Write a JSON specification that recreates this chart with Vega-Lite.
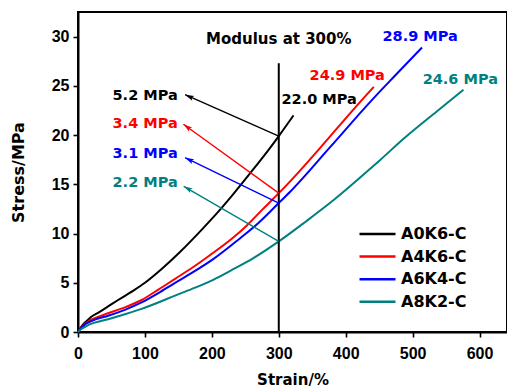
{
  "$schema": "https://vega.github.io/schema/vega-lite/v6.json",
  "autosize": {"type": "none"},
  "padding": {"left": 78, "top": 12, "right": 0, "bottom": 56},
  "width": 429,
  "height": 320,
  "background": "white",
  "config": {
    "view": {"stroke": "#000000", "strokeWidth": 2},
    "axis": {
      "grid": false,
      "domainColor": "#000000",
      "domainWidth": 2,
      "tickColor": "#000000",
      "tickWidth": 1.6,
      "labelFont": "Liberation Sans",
      "labelFontWeight": "bold",
      "labelFontSize": 16,
      "labelColor": "#000000",
      "titleFont": "DejaVu Sans",
      "titleFontWeight": "bold",
      "titleFontSize": 16,
      "titleColor": "#000000"
    }
  },
  "datasets": {
    "curves": [
      {"series": "A0K6-C", "strain": 0, "stress": 0},
      {"series": "A0K6-C", "strain": 5, "stress": 0.55},
      {"series": "A0K6-C", "strain": 10, "stress": 0.95},
      {"series": "A0K6-C", "strain": 15, "stress": 1.25},
      {"series": "A0K6-C", "strain": 20, "stress": 1.55},
      {"series": "A0K6-C", "strain": 30, "stress": 1.95},
      {"series": "A0K6-C", "strain": 45, "stress": 2.6},
      {"series": "A0K6-C", "strain": 60, "stress": 3.25},
      {"series": "A0K6-C", "strain": 85, "stress": 4.3},
      {"series": "A0K6-C", "strain": 100, "stress": 5.0},
      {"series": "A0K6-C", "strain": 125, "stress": 6.4},
      {"series": "A0K6-C", "strain": 152, "stress": 8.1},
      {"series": "A0K6-C", "strain": 185, "stress": 10.4},
      {"series": "A0K6-C", "strain": 212, "stress": 12.4},
      {"series": "A0K6-C", "strain": 232, "stress": 14.0},
      {"series": "A0K6-C", "strain": 257, "stress": 16.1},
      {"series": "A0K6-C", "strain": 287, "stress": 18.7},
      {"series": "A0K6-C", "strain": 300, "stress": 19.9},
      {"series": "A0K6-C", "strain": 322, "stress": 22.0},
      {"series": "A4K6-C", "strain": 0, "stress": 0},
      {"series": "A4K6-C", "strain": 5, "stress": 0.5},
      {"series": "A4K6-C", "strain": 10, "stress": 0.8},
      {"series": "A4K6-C", "strain": 15, "stress": 1.05},
      {"series": "A4K6-C", "strain": 25, "stress": 1.4},
      {"series": "A4K6-C", "strain": 45, "stress": 1.9},
      {"series": "A4K6-C", "strain": 70, "stress": 2.5},
      {"series": "A4K6-C", "strain": 95, "stress": 3.25},
      {"series": "A4K6-C", "strain": 120, "stress": 4.3},
      {"series": "A4K6-C", "strain": 145, "stress": 5.4},
      {"series": "A4K6-C", "strain": 170, "stress": 6.5},
      {"series": "A4K6-C", "strain": 197, "stress": 7.8},
      {"series": "A4K6-C", "strain": 232, "stress": 9.6},
      {"series": "A4K6-C", "strain": 252, "stress": 10.8},
      {"series": "A4K6-C", "strain": 275, "stress": 12.4},
      {"series": "A4K6-C", "strain": 300, "stress": 14.1},
      {"series": "A4K6-C", "strain": 317, "stress": 15.3},
      {"series": "A4K6-C", "strain": 367, "stress": 19.1},
      {"series": "A4K6-C", "strain": 400, "stress": 21.7},
      {"series": "A4K6-C", "strain": 422, "stress": 23.4},
      {"series": "A4K6-C", "strain": 442, "stress": 24.9},
      {"series": "A6K4-C", "strain": 0, "stress": 0},
      {"series": "A6K4-C", "strain": 5, "stress": 0.45},
      {"series": "A6K4-C", "strain": 10, "stress": 0.75},
      {"series": "A6K4-C", "strain": 15, "stress": 0.95},
      {"series": "A6K4-C", "strain": 25, "stress": 1.25},
      {"series": "A6K4-C", "strain": 45, "stress": 1.65},
      {"series": "A6K4-C", "strain": 70, "stress": 2.25},
      {"series": "A6K4-C", "strain": 95, "stress": 3.0},
      {"series": "A6K4-C", "strain": 120, "stress": 3.95},
      {"series": "A6K4-C", "strain": 145, "stress": 5.0},
      {"series": "A6K4-C", "strain": 170, "stress": 6.0},
      {"series": "A6K4-C", "strain": 202, "stress": 7.4},
      {"series": "A6K4-C", "strain": 240, "stress": 9.4},
      {"series": "A6K4-C", "strain": 270, "stress": 11.1},
      {"series": "A6K4-C", "strain": 300, "stress": 13.1},
      {"series": "A6K4-C", "strain": 317, "stress": 14.25},
      {"series": "A6K4-C", "strain": 377, "stress": 18.8},
      {"series": "A6K4-C", "strain": 437, "stress": 23.4},
      {"series": "A6K4-C", "strain": 476, "stress": 26.2},
      {"series": "A6K4-C", "strain": 514, "stress": 28.9},
      {"series": "A8K2-C", "strain": 0, "stress": 0},
      {"series": "A8K2-C", "strain": 5, "stress": 0.3},
      {"series": "A8K2-C", "strain": 10, "stress": 0.5},
      {"series": "A8K2-C", "strain": 15, "stress": 0.7},
      {"series": "A8K2-C", "strain": 25, "stress": 0.95},
      {"series": "A8K2-C", "strain": 45, "stress": 1.3},
      {"series": "A8K2-C", "strain": 70, "stress": 1.8},
      {"series": "A8K2-C", "strain": 95, "stress": 2.35},
      {"series": "A8K2-C", "strain": 120, "stress": 3.0},
      {"series": "A8K2-C", "strain": 145, "stress": 3.7},
      {"series": "A8K2-C", "strain": 175, "stress": 4.5},
      {"series": "A8K2-C", "strain": 202, "stress": 5.3},
      {"series": "A8K2-C", "strain": 230, "stress": 6.3},
      {"series": "A8K2-C", "strain": 262, "stress": 7.5},
      {"series": "A8K2-C", "strain": 300, "stress": 9.2},
      {"series": "A8K2-C", "strain": 340, "stress": 11.2},
      {"series": "A8K2-C", "strain": 382, "stress": 13.4},
      {"series": "A8K2-C", "strain": 437, "stress": 16.6},
      {"series": "A8K2-C", "strain": 452, "stress": 17.5},
      {"series": "A8K2-C", "strain": 486, "stress": 19.6},
      {"series": "A8K2-C", "strain": 536, "stress": 22.4},
      {"series": "A8K2-C", "strain": 576, "stress": 24.6}
    ],
    "arrows": [
      {"series": "A0K6-C", "x0": 300, "y0": 19.9, "x1": 160, "y1": 24.1},
      {"series": "A4K6-C", "x0": 300, "y0": 14.1, "x1": 157.5, "y1": 21.1},
      {"series": "A6K4-C", "x0": 300, "y0": 13.1, "x1": 160, "y1": 17.7},
      {"series": "A8K2-C", "x0": 300, "y0": 9.2, "x1": 158, "y1": 14.8}
    ],
    "leftLabels": [
      {"series": "A0K6-C", "strain": 149, "stress": 24.0, "label": "5.2 MPa"},
      {"series": "A4K6-C", "strain": 149, "stress": 21.1, "label": "3.4 MPa"},
      {"series": "A6K4-C", "strain": 149, "stress": 18.1, "label": "3.1 MPa"},
      {"series": "A8K2-C", "strain": 149, "stress": 15.1, "label": "2.2 MPa"}
    ],
    "rightLabels": [
      {"series": "A0K6-C", "strain": 304, "stress": 23.6, "label": "22.0 MPa"},
      {"series": "A4K6-C", "strain": 346, "stress": 26.0, "label": "24.9 MPa"},
      {"series": "A6K4-C", "strain": 455, "stress": 30.0, "label": "28.9 MPa"},
      {"series": "A8K2-C", "strain": 515, "stress": 25.6, "label": "24.6 MPa"}
    ]
  },
  "layer": [
    {
      "data": {"name": "curves"},
      "mark": {"type": "line", "strokeWidth": 2, "interpolate": "monotone"},
      "encoding": {
        "x": {
          "field": "strain", "type": "quantitative",
          "scale": {"domain": [0, 641], "nice": false, "zero": false},
          "axis": {
            "title": "Strain/%",
            "values": [0, 50, 100, 150, 200, 250, 300, 350, 400, 450, 500, 550, 600],
            "labelExpr": "datum.value % 100 === 0 ? datum.label : ''",
            "tickSize": {"condition": {"test": "datum.value % 100 === 0", "value": 5}, "value": 3},
            "labelPadding": 8,
            "labelFlush": false,
            "titleY": 40,
            "titleFontSize": 15,
            "titleBaseline": "top"
          }
        },
        "y": {
          "field": "stress", "type": "quantitative",
          "scale": {"domain": [0, 32.5], "nice": false, "zero": false},
          "axis": {
            "title": "Stress/MPa",
            "values": [0, 2.5, 5, 7.5, 10, 12.5, 15, 17.5, 20, 22.5, 25, 27.5, 30],
            "labelExpr": "datum.value % 5 === 0 ? datum.label : ''",
            "tickSize": {"condition": {"test": "datum.value % 5 === 0", "value": 5}, "value": 3},
            "labelPadding": 4,
            "labelFlush": false,
            "titleX": -60,
            "titleY": 160,
            "titleAngle": 270,
            "titleAlign": "center",
            "titleBaseline": "middle"
          }
        },
        "color": {
          "field": "series", "type": "nominal",
          "scale": {
            "domain": ["A0K6-C", "A4K6-C", "A6K4-C", "A8K2-C"],
            "range": ["#000000", "#ff0000", "#0000ff", "#008080"]
          },
          "legend": {
            "orient": "none",
            "legendX": 280,
            "legendY": 211,
            "title": null,
            "padding": 0,
            "symbolType": "stroke",
            "symbolSize": 1296,
            "symbolStrokeWidth": 2.5,
            "labelFont": "DejaVu Sans",
            "labelFontWeight": "bold",
            "labelFontSize": 16,
            "labelColor": "#000000",
            "labelOffset": 4,
            "clipHeight": 22,
            "rowPadding": 0.6
          }
        }
      }
    },
    {
      "data": {"values": [{"strain": 300, "low": 0, "high": 27.3}]},
      "mark": {"type": "rule", "color": "#000000", "strokeWidth": 2},
      "encoding": {
        "x": {"field": "strain", "type": "quantitative"},
        "y": {"field": "low", "type": "quantitative"},
        "y2": {"field": "high"}
      }
    },
    {
      "data": {"name": "arrows"},
      "mark": {"type": "rule", "strokeWidth": 1.4},
      "encoding": {
        "x": {"field": "x0", "type": "quantitative"},
        "y": {"field": "y0", "type": "quantitative"},
        "x2": {"field": "x1"},
        "y2": {"field": "y1"},
        "color": {"field": "series", "type": "nominal", "legend": null}
      }
    },
    {
      "data": {"name": "arrows"},
      "transform": [{"filter": "datum.series === 'A0K6-C'"}],
      "mark": {"type": "point", "shape": "M0,0L0.7,2.4L0,1.9L-0.7,2.4Z", "filled": true, "opacity": 1, "size": 56, "angle": 294, "strokeWidth": 0},
      "encoding": {
        "x": {"field": "x1", "type": "quantitative"},
        "y": {"field": "y1", "type": "quantitative"},
        "color": {"field": "series", "type": "nominal", "legend": null}
      }
    },
    {
      "data": {"name": "arrows"},
      "transform": [{"filter": "datum.series === 'A4K6-C'"}],
      "mark": {"type": "point", "shape": "M0,0L0.7,2.4L0,1.9L-0.7,2.4Z", "filled": true, "opacity": 1, "size": 56, "angle": 306, "strokeWidth": 0},
      "encoding": {
        "x": {"field": "x1", "type": "quantitative"},
        "y": {"field": "y1", "type": "quantitative"},
        "color": {"field": "series", "type": "nominal", "legend": null}
      }
    },
    {
      "data": {"name": "arrows"},
      "transform": [{"filter": "datum.series === 'A6K4-C'"}],
      "mark": {"type": "point", "shape": "M0,0L0.7,2.4L0,1.9L-0.7,2.4Z", "filled": true, "opacity": 1, "size": 56, "angle": 296, "strokeWidth": 0},
      "encoding": {
        "x": {"field": "x1", "type": "quantitative"},
        "y": {"field": "y1", "type": "quantitative"},
        "color": {"field": "series", "type": "nominal", "legend": null}
      }
    },
    {
      "data": {"name": "arrows"},
      "transform": [{"filter": "datum.series === 'A8K2-C'"}],
      "mark": {"type": "point", "shape": "M0,0L0.7,2.4L0,1.9L-0.7,2.4Z", "filled": true, "opacity": 1, "size": 56, "angle": 300, "strokeWidth": 0},
      "encoding": {
        "x": {"field": "x1", "type": "quantitative"},
        "y": {"field": "y1", "type": "quantitative"},
        "color": {"field": "series", "type": "nominal", "legend": null}
      }
    },
    {
      "data": {"name": "leftLabels"},
      "mark": {"type": "text", "align": "right", "baseline": "middle", "font": "DejaVu Sans", "fontWeight": "bold", "fontSize": 14.5},
      "encoding": {
        "x": {"field": "strain", "type": "quantitative"},
        "y": {"field": "stress", "type": "quantitative"},
        "text": {"field": "label"},
        "color": {"field": "series", "type": "nominal", "legend": null}
      }
    },
    {
      "data": {"name": "rightLabels"},
      "mark": {"type": "text", "align": "left", "baseline": "middle", "font": "DejaVu Sans", "fontWeight": "bold", "fontSize": 14.5},
      "encoding": {
        "x": {"field": "strain", "type": "quantitative"},
        "y": {"field": "stress", "type": "quantitative"},
        "text": {"field": "label"},
        "color": {"field": "series", "type": "nominal", "legend": null}
      }
    },
    {
      "data": {"values": [{"strain": 300, "stress": 29.8, "label": "Modulus at 300%"}]},
      "mark": {"type": "text", "align": "center", "baseline": "middle", "font": "DejaVu Sans", "fontWeight": "bold", "fontSize": 15, "color": "#000000"},
      "encoding": {
        "x": {"field": "strain", "type": "quantitative"},
        "y": {"field": "stress", "type": "quantitative"},
        "text": {"field": "label"}
      }
    }
  ]
}
